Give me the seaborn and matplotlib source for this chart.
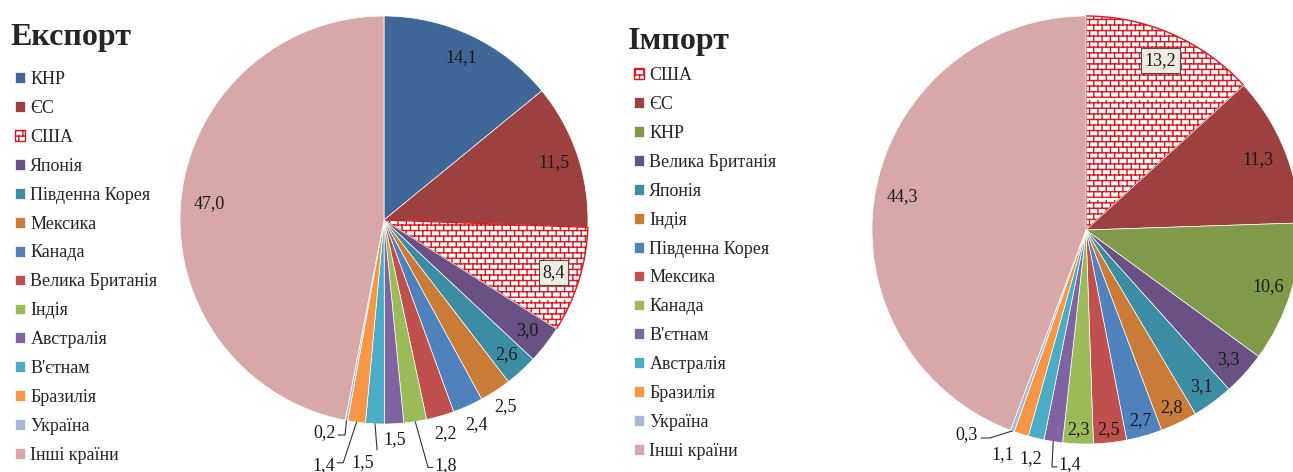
import warnings
import numpy as np
import matplotlib
matplotlib.use("Agg")
import matplotlib.pyplot as plt
import matplotlib.hatch as mhatch
from matplotlib.path import Path
import seaborn as sns

warnings.filterwarnings("ignore")

# Export shares, %
export_countries = ["КНР", "ЄС", "США", "Японія", "Південна Корея", "Мексика", "Канада",
                    "Велика Британія", "Індія", "Австралія", "В'єтнам", "Бразилія",
                    "Україна", "Інші країни"]
export_shares = [14.1, 11.5, 8.4, 3.0, 2.6, 2.5, 2.4, 2.2, 1.8, 1.5, 1.5, 1.4, 0.2, 47.0]

# Import shares, %
import_countries = ["США", "ЄС", "КНР", "Велика Британія", "Японія", "Індія", "Південна Корея",
                    "Мексика", "Канада", "В'єтнам", "Австралія", "Бразилія",
                    "Україна", "Інші країни"]
import_shares = [13.2, 11.3, 10.6, 3.3, 3.1, 2.8, 2.7, 2.5, 2.3, 1.4, 1.2, 1.1, 0.3, 44.3]

# excel-like slice colours, by position
slot_colors = ["#3F6797", "#9C413F", "#7F9A48", "#6A5185", "#3C8DA3", "#CB7B38",
               "#4F81BD", "#C0504D", "#9BBB59", "#8064A2", "#4BACC6", "#F79646",
               "#A8B9D8", "#D8A8A8"]
HATCH_RED = "#E0161E"


# brick hatch, matplotlib has none
class BrickHatch(mhatch.HatchPatternBase):
    def __init__(self, hatch, density):
        self.rows = int(hatch.count('b') * density)
        self.cols = int(round(self.rows * 0.67))
        self.num_vertices = (self.rows + self.rows * self.cols) * 2

    def set_vertices_and_codes(self, vertices, codes):
        h = 1.0 / self.rows
        i = 0
        for j in range(self.rows):
            y = (j + 0.5) * h
            vertices[i] = (0.0, y)
            vertices[i + 1] = (1.0, y)
            i += 2
            shift = 0.25 if j % 2 == 0 else 0.75
            for k in range(self.cols):
                x = (k + shift) / self.cols
                vertices[i] = (x, y)
                vertices[i + 1] = (x, y + h)
                i += 2
        codes[0::2] = Path.MOVETO
        codes[1::2] = Path.LINETO


mhatch._hatch_types.append(BrickHatch)

sns.set_theme(style="white")
plt.rcParams['font.family'] = ['Liberation Serif', 'DejaVu Serif']
plt.rcParams['hatch.linewidth'] = 1.0

FS = 13

# label placement per slice: float = radial distance,
# tuple = (x, y, ha, leader points after the slice edge)
export_labels = [0.88, 0.88, 0.87, 0.89, 0.89, 1.09, 1.10, 1.09,
                 (0.245, -1.206, 'left', [(0.216, -1.213), (0.24, -1.213)]),
                 1.08,
                 (-0.103, -1.19, 'center', [(-0.034, -1.127)]),
                 (-0.24, -1.206, 'right', [(-0.20, -1.19), (-0.23, -1.19)]),
                 (-0.235, -1.044, 'right', [(-0.191, -1.054), (-0.225, -1.054)]),
                 0.86]
import_labels = [0.865, 0.87, 0.89, 0.90, 0.91, 0.92, 0.925, 0.94, 0.935,
                 (-0.131, -1.098, 'left', [(-0.159, -1.107), (-0.135, -1.107)]),
                 1.10,
                 (-0.39, -1.05, 'center', []),
                 (-0.505, -0.958, 'right', [(-0.449, -0.972), (-0.49, -0.972)]),
                 0.87]


def fmt(v):
    return f"{v:.1f}".replace('.', ',')


def draw_pie(fig, rect, values, labels, hatch_idx, label_spec):
    ax = fig.add_axes(rect)
    wedges, _ = ax.pie(values, colors=slot_colors, startangle=90, counterclock=False,
                       radius=1, wedgeprops=dict(edgecolor='white', linewidth=0.5))
    hw = wedges[hatch_idx]
    hw.set_facecolor('white')
    hw.set_edgecolor(HATCH_RED)
    hw.set_linewidth(1.0)
    hw.set_hatch('bbb')
    for i, (w, v) in enumerate(zip(wedges, values)):
        mid = np.deg2rad((w.theta1 + w.theta2) / 2)
        ex, ey = np.cos(mid), np.sin(mid)
        spec = label_spec[i]
        kw = dict(fontsize=FS, va='center', color='#1a1a1a')
        if i == hatch_idx:
            kw['bbox'] = dict(boxstyle='square,pad=0.2', fc='#EEECE1', ec='#505050', lw=0.8)
        if isinstance(spec, tuple):
            tx, ty, ha, pts = spec
            if pts:
                xs = [ex] + [p[0] for p in pts]
                ys = [ey] + [p[1] for p in pts]
                ax.plot(xs, ys, color='#333333', lw=0.8, clip_on=False)
            ax.text(tx, ty, fmt(v), ha=ha, clip_on=False, **kw)
        else:
            ax.text(spec * ex, spec * ey, fmt(v), ha='center', **kw)
    ax.set_xlim(-1, 1)
    ax.set_ylim(-1, 1)
    ax.set_aspect('equal')
    ax.axis('off')
    return ax, wedges


W, H = 1293, 472
fig = plt.figure(figsize=(W / 100, H / 100), dpi=100)
fig.patch.set_facecolor('white')

# left pie: centre (384, 220), r 204 px
cx, cy, r = 384, 220, 204
ax1, w1 = draw_pie(fig, [(cx - r) / W, (H - cy - r) / H, 2 * r / W, 2 * r / H],
                   export_shares, export_countries, 2, export_labels)
# right pie: centre (1086, 230), r 214 px
cx, cy, r = 1086, 230, 214
ax2, w2 = draw_pie(fig, [(cx - r) / W, (H - cy - r) / H, 2 * r / W, 2 * r / H],
                   import_shares, import_countries, 0, import_labels)

fig.text(10 / W, 1 - 45 / H, "Експорт", fontsize=23, fontweight='bold', va='baseline')
fig.text(628 / W, 1 - 49 / H, "Імпорт", fontsize=23, fontweight='bold', va='baseline')

leg_kw = dict(loc='upper left', frameon=False, fontsize=FS, handlelength=0.55,
              handleheight=0.55, handletextpad=0.3, labelspacing=0.66,
              borderpad=0, borderaxespad=0)
fig.legend(w1, export_countries, bbox_to_anchor=(15 / W, 1 - 71 / H), **leg_kw)
fig.legend(w2, import_countries, bbox_to_anchor=(634 / W, 1 - 67 / H), **leg_kw)

fig.savefig("out.png", dpi=100, facecolor='white')
